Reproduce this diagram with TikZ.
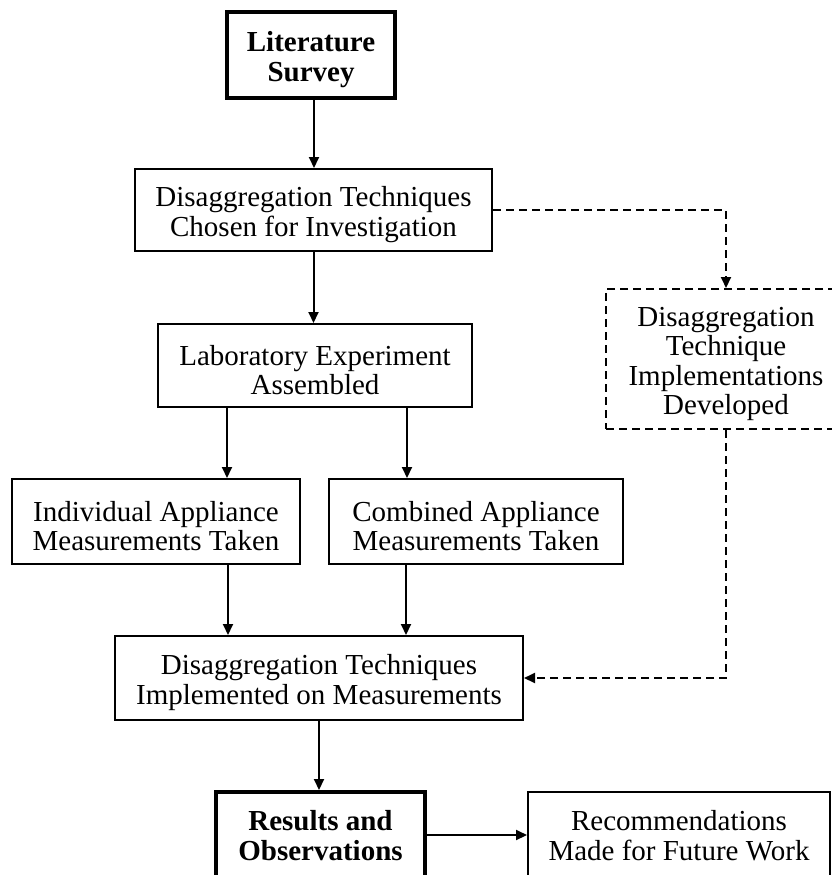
\documentclass[tikz,border=0pt]{standalone}
\usepackage{fontspec}
\setmainfont{Liberation Serif}
\usetikzlibrary{arrows.meta}
\newcommand\firststrut{\rule{0pt}{29pt}}
\newcommand\lowstrut{\rule{0pt}{21pt}}
\tikzset{
  box/.style={draw, line width=2pt, align=center, inner sep=0pt,
    font=\fontsize{29}{29.5}\selectfont},
  thickbox/.style={box, line width=4pt, font=\fontsize{29}{29.5}\selectfont\bfseries},
  dbox/.style={box, dash pattern=on 8pt off 5pt},
  arr/.style={line width=2pt, -{Triangle[length=11pt,width=10pt]}},
  darr/.style={arr, dash pattern=on 8pt off 5pt},
}
\begin{document}
\begin{tikzpicture}[x=1pt,y=-1pt]
\useasboundingbox (0,0) rectangle (832,875);
\clip (0,0) rectangle (832,875);
\node[thickbox, minimum width=168pt, minimum height=86pt] (lit) at (311,55) {\firststrut Literature\\Survey};
\node[box, minimum width=357pt, minimum height=82pt] (chosen) at (313.5,210) {\firststrut Disaggregation Techniques\\Chosen for Investigation};
\node[box, minimum width=314pt, minimum height=83pt] (lab) at (315,365.5) {\firststrut Laboratory Experiment\\Assembled};
\node[dbox, minimum width=240pt, minimum height=140pt] (dev) at (726,359) {\firststrut Disaggregation\\Technique\\Implementations\\Developed};
\node[box, minimum width=288pt, minimum height=85pt] (ind) at (156,521.5) {\firststrut Individual Appliance\\Measurements Taken};
\node[box, minimum width=294pt, minimum height=85pt] (comb) at (476,521.5) {\firststrut Combined Appliance\\Measurements Taken};
\node[box, minimum width=408pt, minimum height=84pt] (impl) at (319,678) {\firststrut Disaggregation Techniques\\Implemented on Measurements};
\node[thickbox, minimum width=209pt, minimum height=86pt] (res) at (320.5,835) {\lowstrut Results and\\Observations};
\node[box, minimum width=302pt, minimum height=86pt] (rec) at (679,835) {\lowstrut Recommendations\\Made for Future Work};

\draw[arr] ([xshift=3pt]lit.south) -- ([xshift=3pt]lit.south |- chosen.north);
\draw[arr] (chosen.south) -- (chosen.south |- lab.north);
\draw[darr] (chosen.east) -- (chosen.east -| dev.north) -- (dev.north);
\draw[arr] ([xshift=70pt]lab.south west) -- ([xshift=70pt]lab.south west |- ind.north);
\draw[arr] ([xshift=-66pt]lab.south east) -- ([xshift=-66pt]lab.south east |- comb.north);
\draw[arr] ([xshift=72pt]ind.south) -- ([xshift=72pt]ind.south |- impl.north);
\draw[arr] ([xshift=-70pt]comb.south) -- ([xshift=-70pt]comb.south |- impl.north);
\draw[darr] (dev.south) -- (dev.south |- impl.east) -- (impl.east);
\draw[arr] (impl.south) -- (impl.south |- res.north);
\draw[arr] (res.east) -- (rec.west);
\end{tikzpicture}
\end{document}
